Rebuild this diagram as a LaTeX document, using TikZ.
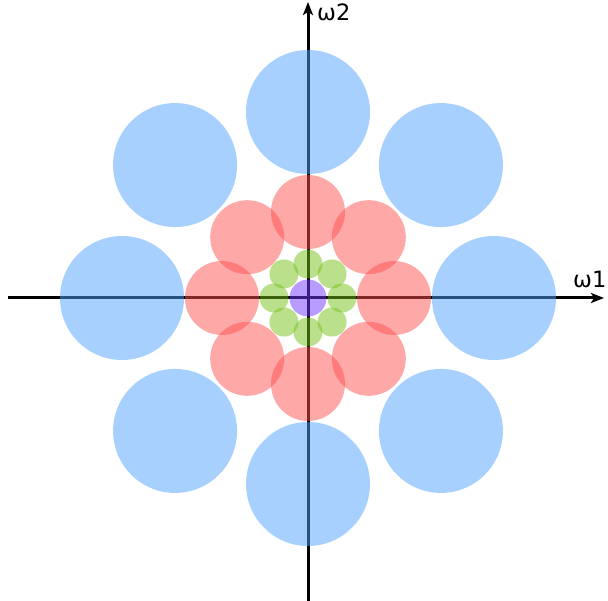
\documentclass[tikz,border=0pt]{standalone}
\usepackage{fontspec}
\setsansfont{DejaVu Sans}
\usetikzlibrary{arrows.meta,calc}
\definecolor{cblue}{RGB}{81,161,255}
\definecolor{cred}{RGB}{255,81,81}
\definecolor{cgreen}{RGB}{117,193,25}
\definecolor{cpurple}{RGB}{113,57,255}
\tikzset{
  axis/.style={line width=3pt,-{Stealth[length=13pt,width=10pt,inset=3pt]}},
  disc/.style={fill opacity=0.5},
  lab/.style={font=\sffamily\fontsize{22.5}{24}\selectfont, inner sep=0pt}
}
\begin{document}
\begin{tikzpicture}[x=1pt,y=-1pt]
\useasboundingbox (0,0) rectangle (608,601);
\coordinate (o) at (308,298);
\coordinate (xl) at (8,298);
\coordinate (xr) at (604,298);
\coordinate (yb) at (308,601);
\coordinate (yt) at (308,2);
\draw[axis] (xl) -- (xr);
\draw[axis] (yb) -- (yt);
\node[lab, anchor=base west] (w1) at (573,288) {ω1};
\node[lab, anchor=base west] (w2) at (317,20.5) {ω2};
\foreach \a in {0,90,180,270} {
  \fill[cblue,disc] ($(o)+(\a:186)$) circle (62);
}
\foreach \a in {45,135,225,315} {
  \fill[cblue,disc] ($(o)+(\a:188)$) circle (62);
}
\foreach \a in {0,45,...,315} {
  \fill[cred,disc] ($(o)+(\a:86)$) circle (37);
  \fill[cgreen,disc] ($(o)+(\a:34)$) circle (14.5);
}
\fill[cpurple,disc] (o) circle (18.5);
\end{tikzpicture}
\end{document}
